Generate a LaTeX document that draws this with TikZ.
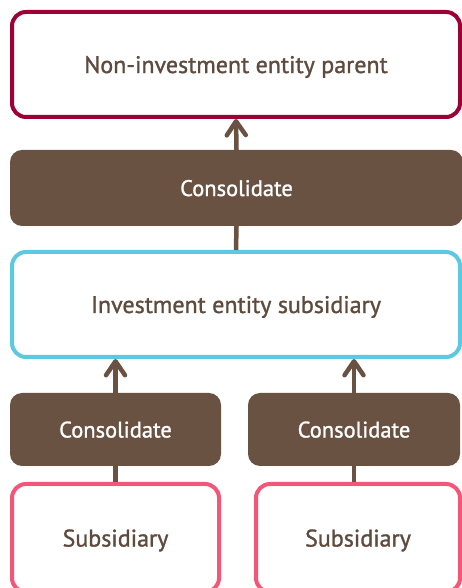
\documentclass[tikz,border=0pt]{standalone}
\usepackage{fontspec}
\setmainfont{PT Sans}[FakeBold=1.2]
\usetikzlibrary{arrows.meta}
\definecolor{boxbrown}{HTML}{695242}
\definecolor{textbrown}{HTML}{5F4B3E}
\definecolor{parentred}{HTML}{9C0034}
\definecolor{investblue}{HTML}{5DC8E2}
\definecolor{subpink}{HTML}{F45677}
\begin{document}
\begin{tikzpicture}[x = 1pt, y = 1pt,
        entity/.style = {draw, line width = 4pt, fill = white, rounded corners = 14pt, text = textbrown, inner sep = 0pt, text depth = 0pt, font = \fontsize{24}{28}\selectfont},
        consol/.style = {fill = boxbrown, rounded corners = 12pt, text = white, inner sep = 0pt, text depth = 0pt, font = \fontsize{22.5}{27}\selectfont},
        link/.style = {draw = boxbrown, line width = 4.5pt},
        uparrow/.style = {link, -{Straight Barb[length = 14pt, width = 19pt, round]}}]
        \useasboundingbox (0, 0) rectangle (462, 588);
        \clip (0, 0) rectangle (462, 588);
        \node [entity, draw = parentred, minimum width = 448pt, minimum height = 105pt] (parent) at (236, 523.5) {Non-investment entity parent};
        \node [consol, minimum width = 453pt, minimum height = 76pt] (consTop) at (236.5, 400) {Consolidate};
        \node [entity, draw = investblue, minimum width = 448pt, minimum height = 105pt] (invest) at (236, 283.5) {Investment entity subsidiary};
        \node [consol, minimum width = 211pt, minimum height = 73pt] (consLeft) at (115.5, 158.5) {Consolidate};
        \node [consol, minimum width = 212pt, minimum height = 73pt] (consRight) at (354, 158.5) {Consolidate};
        \node [entity, draw = subpink, minimum width = 207pt, minimum height = 108pt] (subLeft) at (115.5, 50) {Subsidiary};
        \node [entity, draw = subpink, minimum width = 204pt, minimum height = 108pt] (subRight) at (358, 50) {Subsidiary};
        \draw [uparrow] (consTop.north) -- (parent.south);
        \draw [link] (invest.north) -- (consTop.south);
        \draw [uparrow] (consLeft.north) -- (consLeft.north |- invest.south);
        \draw [uparrow] (consRight.north) -- (consRight.north |- invest.south);
        \draw [link] (subLeft.north) -- (consLeft.south);
        \draw [link] (consRight.south |- subRight.north) -- (consRight.south);
    \end{tikzpicture}
\end{document}
